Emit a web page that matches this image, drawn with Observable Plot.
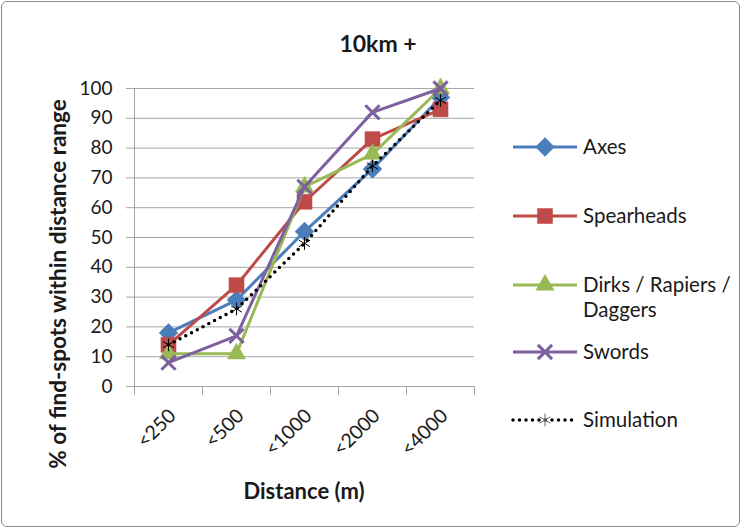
<!DOCTYPE html>
<html><head><meta charset="utf-8">
<script src="https://cdn.jsdelivr.net/npm/d3@7"></script>
<script src="https://cdn.jsdelivr.net/npm/@observablehq/plot@0.6"></script>
<style>
body{margin:0;background:#fff;font-family:Lato,"Open Sans",sans-serif;color:#1a1a1a}
#wrap{position:relative;width:742px;height:529px;overflow:hidden}
#frame{position:absolute;left:1px;top:1px;width:739px;height:526px;border:1px solid #8c8c8c;border-radius:6px;box-sizing:border-box;pointer-events:none}
#chart{position:absolute;left:0;top:0}
.t{position:absolute;white-space:nowrap}
#title{left:378px;top:43px;transform:translate(-50%,-50%);font-weight:bold;font-size:23px}
#xlab{left:304px;top:490px;transform:translate(-50%,-50%);font-weight:bold;font-size:22px}
#ylab{left:57px;top:284px;transform:translate(-50%,-50%) rotate(-90deg);font-weight:bold;font-size:22.5px}
#legend{position:absolute;left:0;top:0;width:742px;height:529px}
.lg{position:absolute;left:583px;font-size:20.5px;line-height:25px;transform:translateY(-13px)}
</style></head>
<body>
<div id="wrap">
  <div id="chart"></div>
  <div class="t" id="title">10km +</div>
  <div class="t" id="xlab">Distance (m)</div>
  <div class="t" id="ylab">% of find-spots within distance range</div>
  <svg id="legend" width="742" height="529"></svg>
  <div id="frame"></div>
</div>
<script>
const categories = ["<250", "<500", "<1000", "<2000", "<4000"];
const yTicks = [0, 10, 20, 30, 40, 50, 60, 70, 80, 90, 100];
const seriesNames = ["Axes", "Spearheads", "Dirks / Rapiers / Daggers", "Swords", "Simulation"];
const axesValues = [18, 29, 52, 73, 97];
const spearheadValues = [14, 34, 62, 83, 93];
const dirkValues = [11, 11, 67, 78, 100];
const swordValues = [8, 17, 67, 92, 100];
const simulationValues = [14, 26, 48, 74, 96];

const seriesValues = [axesValues, spearheadValues, dirkValues, swordValues, simulationValues];
const colors = ["#4A7EBB", "#BE4B48", "#98B954", "#7D60A0", "#000000"];
const symbols = ["diamond2", "square", "triangle", "times", "asterisk"];
const radii = [8.5, 8.5, 6.8, 6.5, 6];

const rows = seriesNames.map((s, k) => categories.map((c, i) => ({series: s, idx: i, cat: c, value: seriesValues[k][i]})));

const marks = [
  Plot.gridY(yTicks, {y: d => d, stroke: "#a6a6a6", strokeOpacity: 1, strokeWidth: 1}),
  Plot.ruleX([0], {stroke: "#a6a6a6"}),
  Plot.ruleY([0], {stroke: "#a6a6a6"}),
  Plot.axisY({ticks: yTicks, tickSize: 8, tickPadding: 14, fontSize: 19, label: null, stroke: "#a6a6a6", color: "#1a1a1a"}),
  Plot.axisX({ticks: d3.range(categories.length + 1), tickSize: 9, tickFormat: () => "", label: null, stroke: "#a6a6a6"}),
  Plot.text(categories, {x: (d, i) => i + 0.5, y: () => 0, text: d => d, rotate: -45, textAnchor: "end", dx: 4, dy: 26, fontSize: 19.5, fill: "#1a1a1a"})
];
rows.forEach((data, k) => {
  const isSim = k === 4;
  marks.push(Plot.line(data, {x: d => d.idx + 0.5, y: "value", stroke: colors[k], strokeWidth: isSim ? 3.5 : 3,
    strokeDasharray: isSim ? "0,6.5" : null, strokeLinecap: isSim ? "round" : "butt", strokeLinejoin: "round"}));
  const filled = k < 3;
  marks.push(Plot.dot(data, {x: d => d.idx + 0.5, y: "value", symbol: () => symbols[k], r: radii[k],
    fill: filled ? colors[k] : "none", stroke: colors[k], strokeWidth: filled ? 0.5 : (isSim ? 1 : 3)}));
});

const chart = Plot.plot({
  width: 742, height: 529,
  marginLeft: 134, marginRight: 268, marginTop: 88, marginBottom: 143,
  style: {fontFamily: "Lato, 'Open Sans', sans-serif", background: "transparent", overflow: "visible"},
  x: {type: "linear", domain: [0, categories.length], axis: null},
  y: {domain: [0, 100], axis: null},
  marks
});
document.getElementById("chart").appendChild(chart);

// legend
const lg = d3.select("#legend");
const legendY = [147, 216, 285, 352, 420];
const symMap = {diamond2: d3.symbolDiamond2, square: d3.symbolSquare, triangle: d3.symbolTriangle, times: d3.symbolTimes, asterisk: d3.symbolAsterisk};
seriesNames.forEach((s, k) => {
  const y = legendY[k];
  const isSim = k === 4;
  lg.append("line").attr("x1", 513).attr("x2", 577).attr("y1", y).attr("y2", y)
    .attr("stroke", colors[k]).attr("stroke-width", isSim ? 3.5 : 3)
    .attr("stroke-dasharray", isSim ? "0,6.5" : null).attr("stroke-linecap", isSim ? "round" : "butt");
  const filled = k < 3;
  lg.append("path").attr("transform", `translate(545,${y})`)
    .attr("d", d3.symbol(symMap[symbols[k]], Math.PI * radii[k] * radii[k])())
    .attr("fill", filled ? colors[k] : "none").attr("stroke", isSim ? "#666" : colors[k])
    .attr("stroke-width", filled ? 0.5 : (isSim ? 1 : 3));
  const div = document.createElement("div");
  div.className = "t lg";
  div.style.top = y + "px";
  if (k === 2) { div.innerHTML = "Dirks / Rapiers /<br>Daggers"; }
  else div.textContent = s;
  document.getElementById("wrap").appendChild(div);
});
</script>
</body></html>
